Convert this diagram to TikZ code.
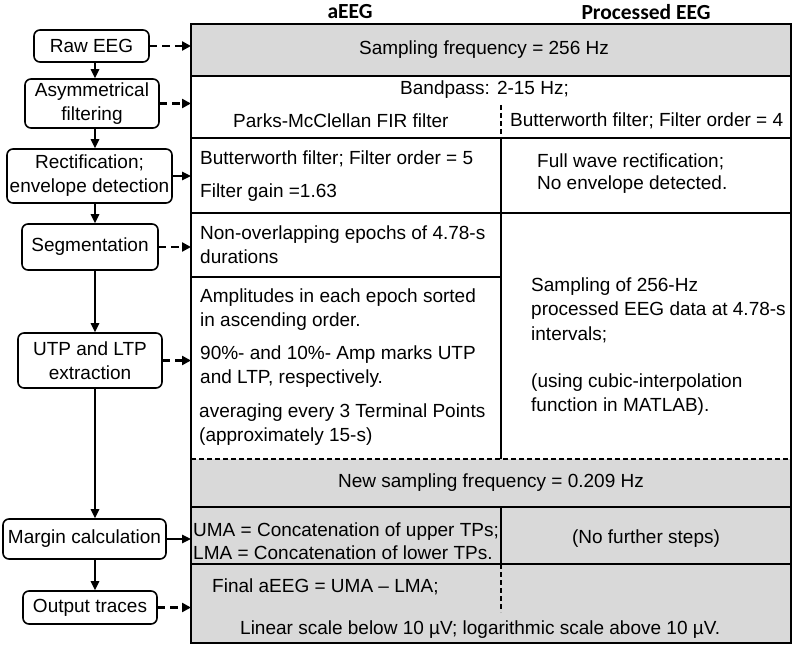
\documentclass[tikz,border=0pt]{standalone}
\usepackage{fontspec}
\setmainfont{Liberation Sans}
\newfontfamily\hdrfont{Carlito}
\usetikzlibrary{arrows.meta}
\definecolor{cellgray}{HTML}{D9D9D9}
\tikzset{
  flowbox/.style={draw, line width=1.6pt, rounded corners=6pt, align=center, inner sep=0pt,
    font=\fontsize{19}{24}\selectfont},
  celltext/.style={inner sep=0pt, align=left, font=\fontsize{19}{24}\selectfont},
  hdr/.style={inner sep=0pt, font=\hdrfont\bfseries\fontsize{21.5}{26}\selectfont},
  solidarr/.style={line width=1.6pt, -{Triangle[length=9pt,width=8.5pt]}},
  dasharr/.style={line width=2.8pt, dash pattern=on 7.5pt off 5pt, -{Triangle[length=9pt,width=9pt]}},
  tline/.style={line width=1.6pt},
  tdash/.style={line width=1.4pt, dash pattern=on 5pt off 3pt},
}
\begin{document}
\begin{tikzpicture}[x=1pt,y=-1pt]
\useasboundingbox (0,0) rectangle (796,647);
% table backgrounds
\fill[cellgray] (191,24) rectangle (791,76);
\fill[cellgray] (191,459) rectangle (791,643);
% table lines
\draw[tline] (191,24) rectangle (791,643);
\draw[tline] (191,76) -- (791,76);
\draw[tline] (191,138) -- (791,138);
\draw[tline] (191,213) -- (791,213);
\draw[tline] (191,277) -- (501,277);
\draw[tdash] (191,459) -- (791,459);
\draw[tline] (191,507) -- (791,507);
\draw[tline] (191,564) -- (791,564);
\draw[tdash] (501,105) -- (501,138);
\draw[tline] (501,138) -- (501,459);
\draw[tline] (501,507) -- (501,564);
\draw[tdash] (501,564) -- (501,612);
% headers
\node[hdr] (ha) at (350,12) {aEEG};
\node[hdr] (hp) at (646,12) {Processed EEG};
% cell texts
\node[celltext] (samp) at (484,50) {Sampling frequency = 256 Hz};
\node[celltext, anchor=west] (band) at (400,90) {Bandpass: 2-15 Hz;};
\node[celltext, anchor=west] (parks) at (233,121) {Parks-McClellan FIR filter};
\node[celltext, anchor=west] (bw4) at (510,121) {Butterworth filter; Filter order = 4};
\node[celltext, anchor=west] (bw5) at (200,159) {Butterworth filter; Filter order = 5};
\node[celltext, anchor=west] (gain) at (200,193) {Filter gain =1.63};
\node[celltext, anchor=west, font=\fontsize{19}{22}\selectfont] (fw) at (537,174) {Full wave rectification;\\No envelope detected.};
\node[celltext, anchor=west] (nonov) at (200,245) {Non-overlapping epochs of 4.78-s\\durations};
\node[celltext, anchor=west] (ampl) at (200,310) {Amplitudes in each epoch sorted\\in ascending order.};
\node[celltext, anchor=west] (pct) at (200,367) {90\%- and 10\%- Amp marks UTP\\and LTP, respectively.};
\node[celltext, anchor=west] (avg) at (199,425) {averaging every 3 Terminal Points\\(approximately 15-s)};
\node[celltext, anchor=west, font=\fontsize{19}{24.5}\selectfont] (s256) at (531,310) {Sampling of 256-Hz\\processed EEG data at 4.78-s\\intervals;};
\node[celltext, anchor=west] (cubic) at (531,395) {(using cubic-interpolation\\function in MATLAB).};
\node[celltext] (newsamp) at (491,483) {New sampling frequency = 0.209 Hz};
\node[celltext, anchor=west, font=\fontsize{19}{23}\selectfont] (uma) at (193,541.5) {UMA = Concatenation of upper TPs;\\LMA = Concatenation of lower TPs.};
\node[celltext] (nofurther) at (646,539) {(No further steps)};
\node[celltext, anchor=west] (final) at (212,587) {Final aEEG = UMA -- LMA;};
\node[celltext, anchor=west] (linear) at (240,630) {Linear scale below 10 µV; logarithmic scale above 10 µV.};
% flow boxes
\node[flowbox, minimum width=115pt, minimum height=32pt] (raw) at (91.5,46) {Raw EEG};
\node[flowbox, minimum width=134pt, minimum height=49pt] (asym) at (92,103.5) {Asymmetrical\\filtering};
\node[flowbox, minimum width=165pt, minimum height=54pt] (rect) at (89.5,176) {Rectification;\\envelope detection};
\node[flowbox, minimum width=136pt, minimum height=46pt] (seg) at (90,247) {Segmentation};
\node[flowbox, minimum width=144pt, minimum height=55pt] (utp) at (90,360.5) {UTP and LTP\\extraction};
\node[flowbox, minimum width=163pt, minimum height=40pt] (marg) at (84.5,539) {Margin calculation};
\node[flowbox, minimum width=134pt, minimum height=33pt] (out) at (90,607.5) {Output traces};
% helper coordinates
\coordinate (vx) at (95,0);
\coordinate (tl) at (191,0);
% vertical arrows
\draw[solidarr] (raw.south -| vx) -- (asym.north -| vx);
\draw[solidarr] (asym.south -| vx) -- (rect.north -| vx);
\draw[solidarr] (rect.south -| vx) -- (seg.north -| vx);
\draw[solidarr] (seg.south -| vx) -- (utp.north -| vx);
\draw[solidarr] (utp.south -| vx) -- (marg.north -| vx);
\draw[solidarr] (marg.south -| vx) -- (out.north -| vx);
% horizontal connectors
\draw[dasharr] (raw.east) -- (raw.east -| tl);
\draw[dasharr] (asym.east) -- (asym.east -| tl);
\draw[solidarr] (rect.east) -- (rect.east -| tl);
\draw[dasharr] (seg.east) -- (seg.east -| tl);
\draw[dasharr] (utp.east) -- (utp.east -| tl);
\draw[solidarr] (marg.east) -- (marg.east -| tl);
\draw[dasharr] (out.east) -- (out.east -| tl);
\end{tikzpicture}
\end{document}
